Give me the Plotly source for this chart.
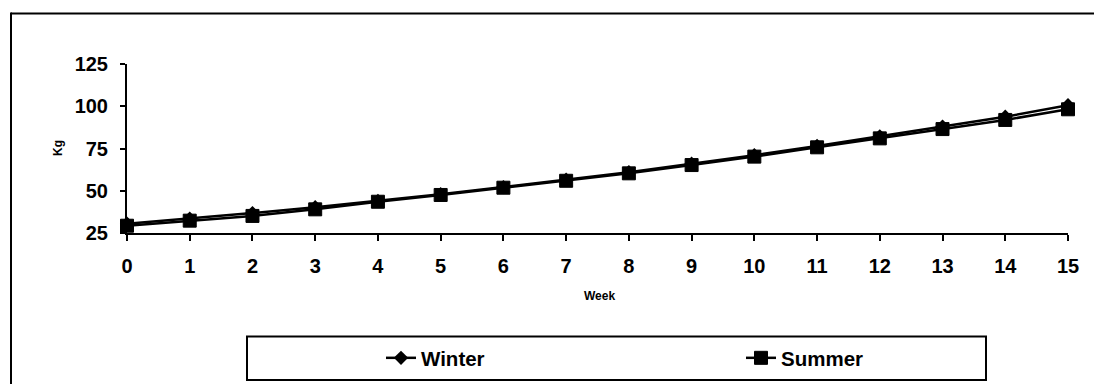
import plotly.graph_objects as go

weeks = list(range(16))
winter = [30.5, 33.5, 36.8, 40.3, 44.0, 48.0, 52.2, 56.5, 61.0, 66.0, 71.0, 76.5, 82.2, 88.0, 93.8, 100.6]
summer = [29.3, 32.3, 35.1, 39.0, 43.5, 47.5, 51.8, 55.9, 60.3, 65.2, 70.2, 75.7, 81.0, 86.5, 91.9, 98.2]
y_ticks = [25, 50, 75, 100, 125]
x_ticks = weeks

FONT = "Liberation Sans, Arial, sans-serif"

# page has an 8px body margin; figure is placed at (8, 8) and kept inside the window
OFF = 8
FW, FH = 1102 - 2 * OFF, 392 - 2 * OFF
# plot area in screen pixels: x 127..1068, y 64..233
L, R, T, B = 127 - OFF, 1068 - OFF, 64 - OFF, 233 - OFF
W, H = R - L, B - T
def px(x):
    return (x - OFF - L) / W
def py(y):
    return (B - (y - OFF)) / H
def cx(x):
    return (x - OFF) / FW
def cy(y):
    return 1 - (y - OFF) / FH

fig = go.Figure()
fig.add_trace(go.Scatter(
    x=weeks, y=winter, name="Winter", mode="lines+markers",
    line=dict(color="black", width=2.5),
    marker=dict(symbol="diamond", size=11, color="black"),
    cliponaxis=False, legend="legend",
))
fig.add_trace(go.Scatter(
    x=weeks, y=summer, name="Summer", mode="lines+markers",
    line=dict(color="black", width=2.5),
    marker=dict(symbol="square", size=13, color="black", line=dict(color="black", width=1)),
    cliponaxis=False, legend="legend2",
))

right_edge = px(OFF + FW)
bottom_edge = py(OFF + FH)

legend_font = dict(family=FONT, size=20.5, color="black", weight="bold")
common_legend = dict(
    orientation="h", xanchor="left", yanchor="middle",
    xref="container", yref="container", font=legend_font,
    bgcolor="rgba(0,0,0,0)", borderwidth=0,
)

fig.update_layout(
    width=FW, height=FH,
    margin=dict(l=L, r=FW - R, t=T, b=FH - B, pad=0, autoexpand=False),
    paper_bgcolor="white", plot_bgcolor="white",
    font=dict(family=FONT, color="black"),
    showlegend=True,
    legend=dict(x=cx(381), y=cy(358), **common_legend),
    legend2=dict(x=cx(741), y=cy(358), **common_legend),
    xaxis=dict(
        range=[0, 15], tickvals=x_ticks, ticktext=[str(v) for v in x_ticks],
        showgrid=False, zeroline=False,
        showline=True, linecolor="black", linewidth=2,
        ticks="outside", ticklen=6, tickwidth=2, tickcolor="black",
        tickfont=dict(family=FONT, size=20, color="black", weight="bold"),
        ticklabelstandoff=8,
    ),
    yaxis=dict(
        range=[25, 125], tickvals=y_ticks, ticktext=[str(v) for v in y_ticks],
        showgrid=False, zeroline=False,
        showline=True, linecolor="black", linewidth=2,
        ticks="outside", ticklen=5, tickwidth=2, tickcolor="black",
        tickfont=dict(family=FONT, size=20, color="black", weight="bold"),
        ticklabelstandoff=8,
    ),
    shapes=[
        # outer chart border (only top and left edges fall inside the picture)
        dict(type="line", xref="paper", yref="paper",
             x0=px(11), x1=right_edge, y0=py(13.5), y1=py(13.5),
             line=dict(color="black", width=2), layer="below"),
        dict(type="line", xref="paper", yref="paper",
             x0=px(11), x1=px(11), y0=py(12.5), y1=bottom_edge,
             line=dict(color="black", width=2), layer="below"),
        # legend box
        dict(type="rect", xref="paper", yref="paper",
             x0=px(247), x1=px(986), y0=py(380), y1=py(336.5),
             line=dict(color="black", width=2), fillcolor="rgba(0,0,0,0)", layer="below"),
    ],
    annotations=[
        dict(text="Week", xref="paper", yref="paper", x=px(599), y=py(296),
             xanchor="center", yanchor="middle", showarrow=False,
             font=dict(family=FONT, size=12, color="black", weight="bold")),
        dict(text="Kg", xref="paper", yref="paper", x=px(58), y=py(148),
             xanchor="center", yanchor="middle", showarrow=False, textangle=-90,
             font=dict(family=FONT, size=12, color="black", weight="bold")),
    ],
)

fig.write_html("out.html")
